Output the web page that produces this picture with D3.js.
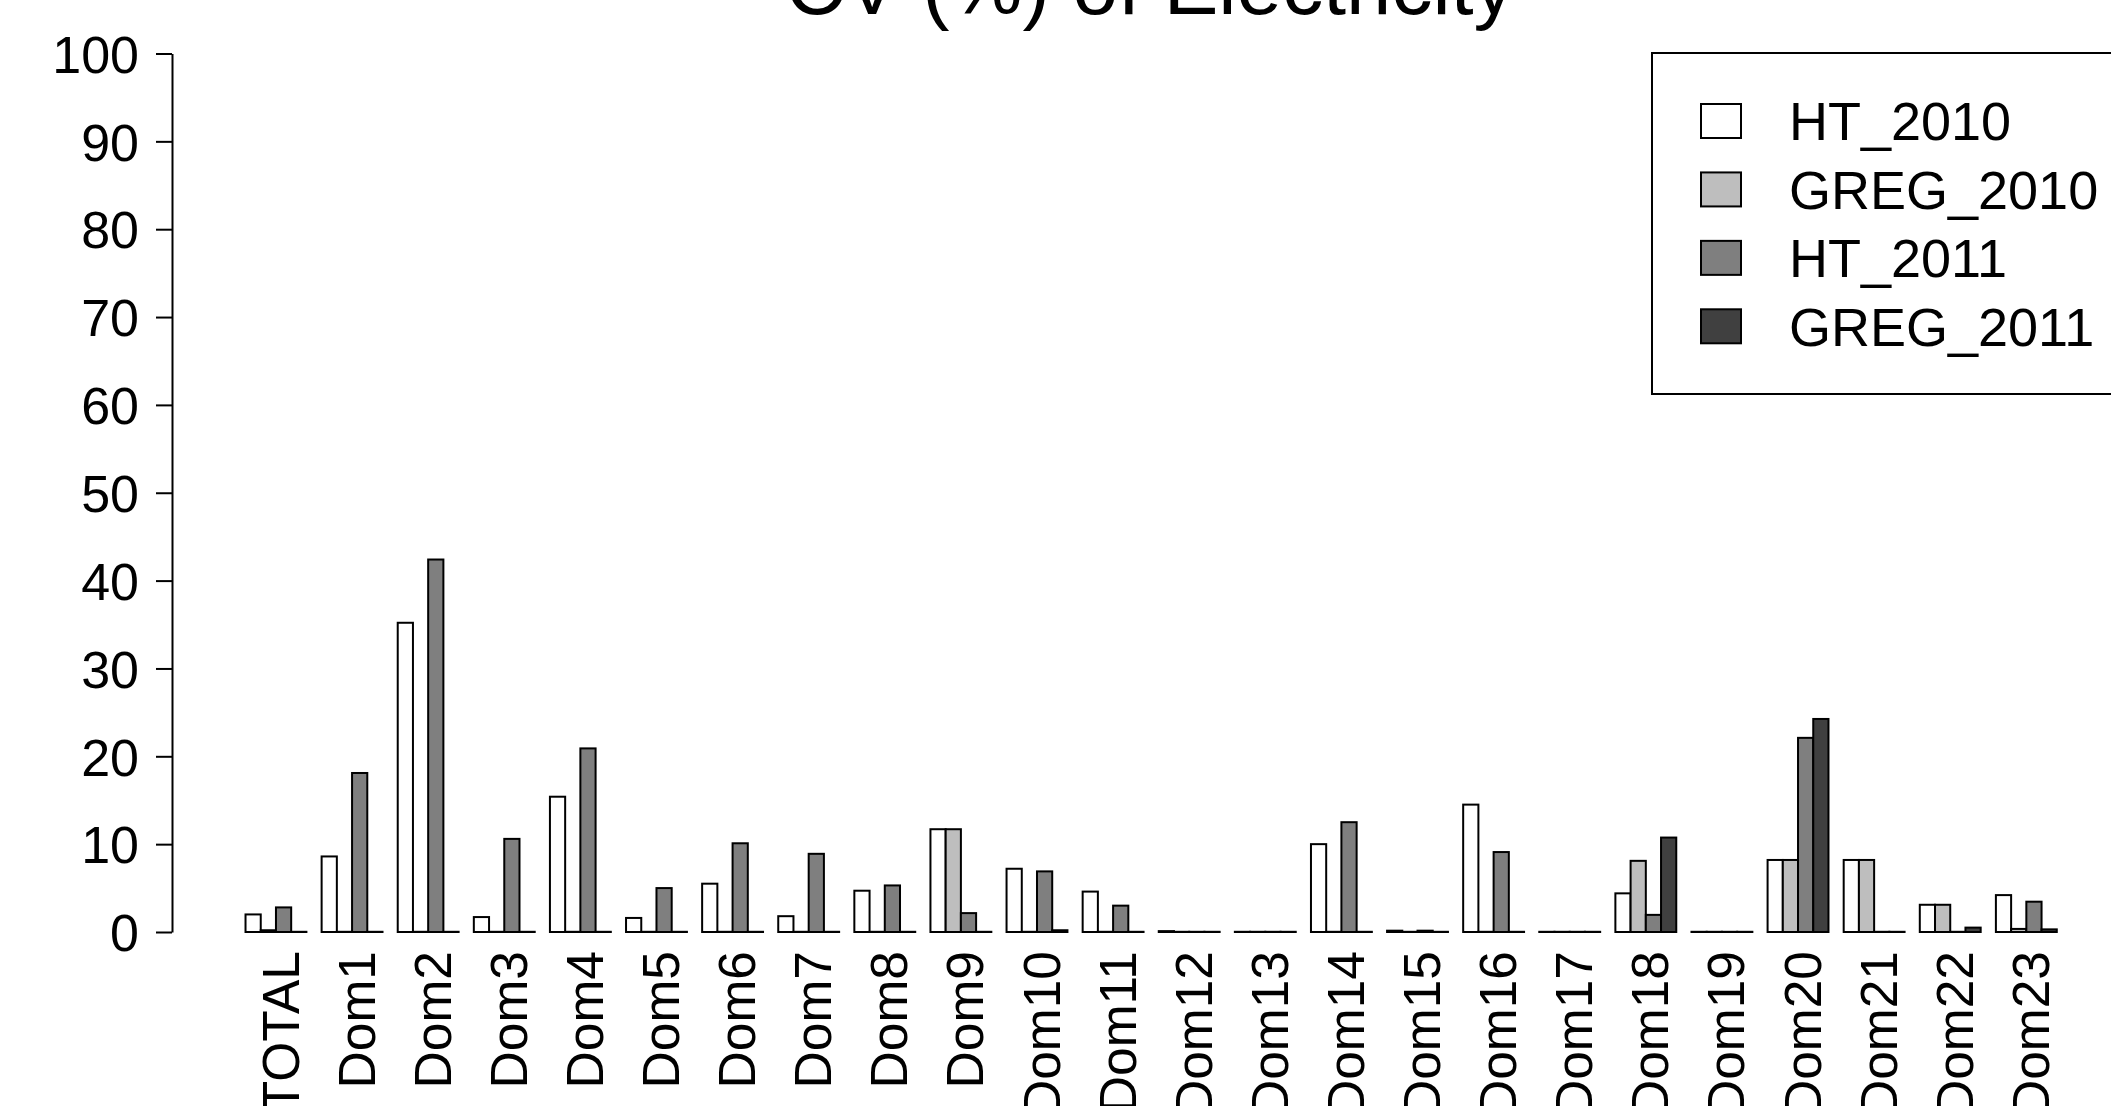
<!DOCTYPE html>
<html>
<head>
<meta charset="utf-8">
<script src="https://cdn.jsdelivr.net/npm/d3@7"></script>
<style>
  html, body { margin: 0; padding: 0; background: #fff; overflow: hidden; }
  svg { display: block; font-family: "Liberation Sans", Arial, Helvetica, sans-serif; }
</style>
</head>
<body>
<div id="chart"></div>
<script>
// values
const categories = ["TOTAL", "Dom1", "Dom2", "Dom3", "Dom4", "Dom5", "Dom6", "Dom7", "Dom8", "Dom9",
  "Dom10", "Dom11", "Dom12", "Dom13", "Dom14", "Dom15", "Dom16", "Dom17", "Dom18", "Dom19",
  "Dom20", "Dom21", "Dom22", "Dom23"];
const seriesNames = ["HT_2010", "GREG_2010", "HT_2011", "GREG_2011"];
const seriesColors = ["#ffffff", "#bebebe", "#7f7f7f", "#404040"];
const ht2010   = [2.0, 8.6, 35.2, 1.7, 15.4, 1.6, 5.5, 1.8, 4.7, 11.7, 7.2, 4.6, 0.1, 0, 10.0, 0.15, 14.5, 0, 4.4, 0, 8.2, 8.2, 3.1, 4.2];
const greg2010 = [0.2, 0, 0, 0, 0, 0, 0, 0, 0, 11.7, 0, 0, 0, 0, 0, 0, 0, 0, 8.1, 0, 8.2, 8.2, 3.1, 0.35];
const ht2011   = [2.8, 18.1, 42.4, 10.6, 20.9, 5.0, 10.1, 8.9, 5.3, 2.15, 6.9, 3.0, 0, 0, 12.5, 0.15, 9.1, 0, 1.95, 0, 22.1, 0, 0, 3.45];
const greg2011 = [0, 0, 0, 0, 0, 0, 0, 0, 0, 0, 0.2, 0, 0, 0, 0, 0, 0, 0, 10.75, 0, 24.25, 0, 0.5, 0.3];
const yTicks = [0, 10, 20, 30, 40, 50, 60, 70, 80, 90, 100];
const title = "CV (%) of Electricity";

const width = 2111, height = 1106;
const seriesValues = [ht2010, greg2010, ht2011, greg2011];

const svg = d3.select("#chart").append("svg")
  .attr("width", width)
  .attr("height", height);

// plot region runs past the right edge, like the original
const x = d3.scaleBand()
  .domain(categories)
  .range([230.3, 2072])
  .paddingInner(0.2)
  .paddingOuter(0.2);

const xs = d3.scaleBand()
  .domain(seriesNames)
  .range([0, x.bandwidth()]);

const y = d3.scaleLinear()
  .domain([0, 100])
  .range([932, 53.5]);

const color = d3.scaleOrdinal().domain(seriesNames).range(seriesColors);

// title (clipped at the top as in the reference)
svg.append("text")
  .attr("x", 1150)
  .attr("y", 14)
  .attr("text-anchor", "middle")
  .attr("font-size", 82)
  .text(title);

// bars
const rows = [];
categories.forEach(function(c, i) {
  seriesNames.forEach(function(s, j) {
    rows.push({cat: c, series: s, value: seriesValues[j][i]});
  });
});

// zero bars still get drawn so their border shows as a baseline
svg.append("g")
  .selectAll("rect")
  .data(rows)
  .enter().append("rect")
  .attr("x", function(d) { return x(d.cat) + xs(d.series); })
  .attr("y", function(d) { return Math.min(y(d.value), y(0) - 0.2); })
  .attr("width", xs.bandwidth())
  .attr("height", function(d) { return Math.max(y(0) - y(d.value), 0.2); })
  .attr("fill", function(d) { return color(d.series); })
  .attr("stroke", "#000")
  .attr("stroke-width", 2);

// y axis
const yAxis = svg.append("g")
  .attr("transform", "translate(172,0)")
  .call(d3.axisLeft(y).tickValues(yTicks).tickSize(16).tickSizeOuter(0).tickPadding(17));
yAxis.selectAll("path, line").attr("stroke", "#000").attr("stroke-width", 2);
yAxis.selectAll("text")
  .attr("font-size", 52)
  .attr("font-family", "Liberation Sans, Arial, sans-serif")
  .attr("fill", "#000")
  .attr("dy", "0.36em");

// category labels, rotated (no axis line, as in barplot)
svg.append("g")
  .selectAll("text")
  .data(categories)
  .enter().append("text")
  .attr("transform", function(d) {
    return "translate(" + (x(d) + x.bandwidth() / 2 + 4) + ",951) rotate(-90)";
  })
  .attr("text-anchor", "end")
  .attr("dy", "0.36em")
  .attr("font-size", 51.5)
  .text(function(d) { return d; });

// legend
const legend = svg.append("g");
legend.append("rect")
  .attr("x", 1652)
  .attr("y", 53)
  .attr("width", 600)
  .attr("height", 341)
  .attr("fill", "none")
  .attr("stroke", "#000")
  .attr("stroke-width", 2);

const ly = d3.scalePoint()
  .domain(seriesNames)
  .range([121, 326.3]);

const item = legend.selectAll("g.item")
  .data(seriesNames)
  .enter().append("g")
  .attr("class", "item")
  .attr("transform", function(d) { return "translate(0," + ly(d) + ")"; });

item.append("rect")
  .attr("x", 1701)
  .attr("y", -17)
  .attr("width", 40)
  .attr("height", 34)
  .attr("fill", function(d) { return color(d); })
  .attr("stroke", "#000")
  .attr("stroke-width", 2);

item.append("text")
  .attr("x", 1789)
  .attr("dy", "0.36em")
  .attr("font-size", 54)
  .text(function(d) { return d; });
</script>
</body>
</html>
